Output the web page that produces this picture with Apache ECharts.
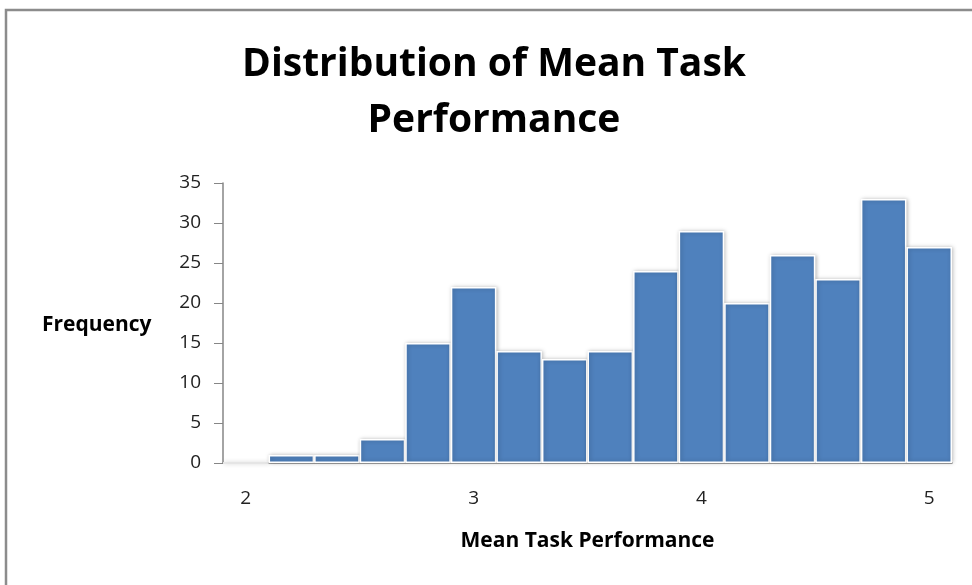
<!DOCTYPE html>
<html>
<head>
<meta charset="utf-8">
<script src="https://cdn.jsdelivr.net/npm/echarts@6/dist/echarts.min.js"></script>
<style>
  html, body { margin: 0; padding: 0; background: #fff; }
  #chart { width: 972px; height: 585px; }
</style>
</head>
<body>
<div id="chart"></div>
<script>
// bin centres of the histogram (width 0.2)
var bins = ["2", "2.2", "2.4", "2.6", "2.8", "3", "3.2", "3.4", "3.6", "3.8",
            "4", "4.2", "4.4", "4.6", "4.8", "5"];
var frequency = [0, 1, 1, 3, 15, 22, 14, 13, 14, 24, 29, 20, 26, 23, 33, 27];
var shownLabels = ["2", "3", "4", "5"];

var font = "'Open Sans', 'Liberation Sans', sans-serif";
var axisGray = "#868686";

var myChart = echarts.init(document.getElementById("chart"));
myChart.setOption({
  animation: false,
  title: {
    text: "Distribution of Mean Task\nPerformance",
    left: 489,
    top: 32,
    textAlign: "center",
    textStyle: {
      fontFamily: font,
      fontWeight: "bold",
      fontSize: 39,
      lineHeight: 56,
      color: "#000"
    }
  },
  graphic: [
    {
      type: "rect",
      shape: { x: 6, y: 10, width: 1000, height: 620 },
      style: { fill: null, stroke: "#8c8c8c", lineWidth: 2.5 },
      silent: true
    },
    {
      type: "text",
      left: 42,
      top: 315,
      style: {
        text: "Frequency",
        font: "bold 21px " + font,
        fill: "#000"
      }
    }
  ],
  grid: {
    left: 223,
    right: 20,
    top: 183,
    bottom: 122
  },
  xAxis: {
    type: "category",
    data: bins,
    name: "Mean Task Performance",
    nameLocation: "middle",
    nameGap: 68,
    nameTextStyle: {
      fontFamily: font,
      fontWeight: "bold",
      fontSize: 21,
      color: "#000"
    },
    axisLine: { lineStyle: { color: axisGray, width: 1.5 } },
    axisTick: { show: false },
    axisLabel: {
      interval: 0,
      margin: 26,
      fontFamily: font,
      fontSize: 19,
      color: "#222",
      formatter: function (v) {
        return shownLabels.indexOf(v) >= 0 ? v : "";
      }
    }
  },
  yAxis: {
    type: "value",
    min: 0,
    max: 35,
    interval: 5,
    splitLine: { show: false },
    axisLine: { show: true, lineStyle: { color: axisGray, width: 1.5 } },
    axisTick: { show: true, inside: false, length: 9, lineStyle: { color: axisGray } },
    axisLabel: {
      margin: 22,
      fontFamily: font,
      fontSize: 19,
      color: "#222"
    }
  },
  series: [
    {
      name: "Frequency",
      type: "bar",
      data: frequency,
      barCategoryGap: 0,
      itemStyle: {
        color: "#4F81BD",
        borderColor: "#ffffff",
        borderWidth: 1.5,
        shadowColor: "rgba(0,0,0,0.25)",
        shadowBlur: 4,
        shadowOffsetX: 1
      }
    }
  ]
});
</script>
</body>
</html>
